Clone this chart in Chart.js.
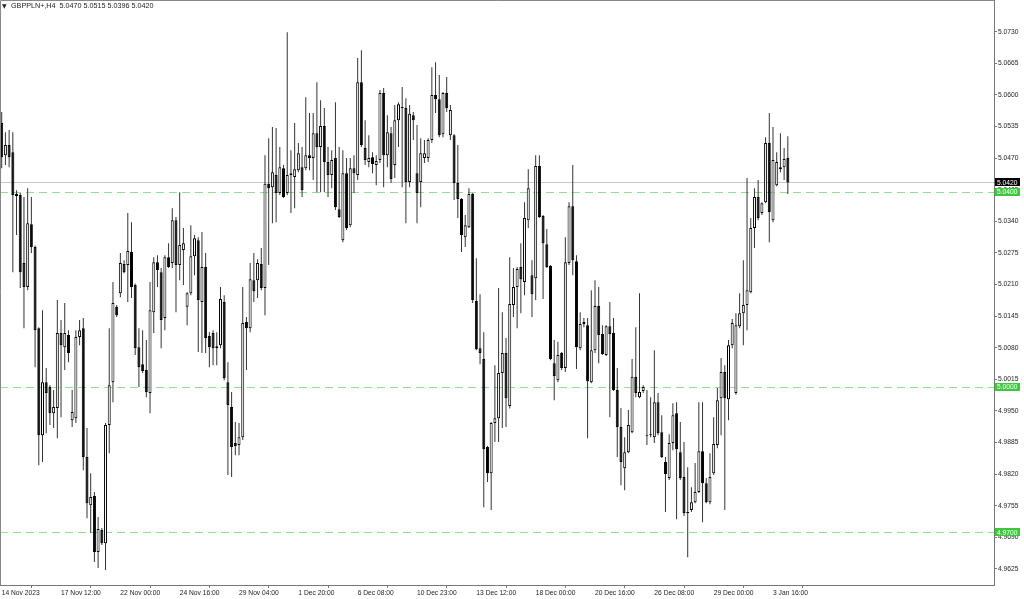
<!DOCTYPE html>
<html>
<head>
<meta charset="utf-8">
<script src="https://cdn.jsdelivr.net/npm/chart.js@4.4.1/dist/chart.umd.min.js"></script>
<style>
  html, body { margin: 0; padding: 0; background: #fff; }
  #wrap { position: relative; width: 1024px; height: 599px; overflow: hidden; }
  #header { position: absolute; left: 11px; top: 1px; font: 7.2px "Liberation Sans", Arial, sans-serif; line-height: 9px; color: #222; white-space: pre; }
  #arrow { position: absolute; left: 2px; top: 1px; font: 6px "DejaVu Sans", sans-serif; line-height: 9px; color: #222; }
</style>
</head>
<body>
<div id="wrap">
  <canvas id="mainChart" width="1024" height="599"></canvas>
  <div id="arrow">▼</div>
  <div id="header"></div>
</div>
<script>
const symbol = "GBPPLN+";
const timeframe = "H4";

// one entry per H4 bar, first bar is 14 Nov 2023 20:00
const opens = [
  5.0542, 5.0476, 5.0497, 5.0482, 5.0396, 5.0394, 5.0254, 5.0205, 5.0334, 5.0287,
  5.0120, 4.9900, 5.0009, 4.9999, 4.9945, 4.9956, 5.0110, 5.0081, 5.0106, 4.9931,
  4.9935, 5.0102, 5.0120, 4.9855, 4.9756, 4.9775, 4.9660, 4.9705, 4.9678, 4.9921,
  5.0009, 5.0164, 5.0192, 5.0252, 5.0250, 5.0277, 5.0209, 5.0081, 5.0046, 5.0034,
  4.9987, 5.0153, 5.0256, 5.0235, 5.0141, 5.0266, 5.0254, 5.0342, 5.0250, 5.0281,
  5.0164, 5.0192, 5.0268, 5.0301, 5.0174, 5.0246, 5.0104, 5.0110, 5.0079, 5.0085,
  5.0174, 5.0009, 4.9958, 4.9884, 4.9880, 4.9896, 5.0133, 5.0120, 5.0219, 5.0219,
  5.0252, 5.0203, 5.0417, 5.0410, 5.0435, 5.0398, 5.0449, 5.0398, 5.0435, 5.0431,
  5.0445, 5.0451, 5.0449, 5.0476, 5.0470, 5.0521, 5.0493, 5.0536, 5.0462, 5.0435,
  5.0470, 5.0365, 5.0301, 5.0439, 5.0332, 5.0449, 5.0435, 5.0626, 5.0491, 5.0462,
  5.0472, 5.0456, 5.0466, 5.0604, 5.0476, 5.0521, 5.0456, 5.0548, 5.0575, 5.0573,
  5.0421, 5.0558, 5.0439, 5.0421, 5.0470, 5.0470, 5.0507, 5.0600, 5.0591, 5.0519,
  5.0604, 5.0517, 5.0517, 5.0419, 5.0386, 5.0307, 5.0328, 5.0396, 5.0176, 5.0079,
  5.0057, 4.9876, 4.9822, 4.9925, 4.9935, 5.0028, 5.0069, 4.9960, 5.0168, 5.0205,
  5.0246, 5.0215, 5.0342, 5.0229, 5.0223, 5.0454, 5.0351, 5.0293, 5.0248, 5.0048,
  5.0013, 5.0069, 5.0038, 5.0254, 5.0371, 5.0258, 5.0079, 5.0129, 5.0126, 5.0009,
  5.0075, 5.0166, 5.0108, 5.0065, 5.0124, 5.0110, 4.9993, 4.9917, 4.9832, 4.9865,
  4.9906, 5.0020, 4.9978, 4.9991, 4.9900, 4.9900, 4.9896, 4.9968, 4.9906, 4.9845,
  4.9812, 4.9884, 4.9945, 4.9865, 4.9814, 4.9742, 4.9746, 4.9762, 4.9783, 4.9867,
  4.9801, 4.9762, 4.9822, 4.9880, 4.9976, 5.0030, 4.9974, 5.0085, 4.9987, 5.0124,
  5.0151, 5.0168, 5.0194, 5.0326, 5.0390, 5.0357, 5.0379, 5.0501, 5.0342, 5.0414,
  5.0447, 5.0451, 5.0470
];
const highs = [
  5.0565, 5.0523, 5.0528, 5.0523, 5.0404, 5.0398, 5.0390, 5.0408, 5.0390, 5.0290,
  5.0122, 5.0157, 5.0038, 5.0003, 4.9993, 5.0178, 5.0137, 5.0172, 5.0116, 4.9993,
  5.0116, 5.0137, 5.0141, 4.9915, 4.9822, 4.9783, 4.9732, 4.9709, 4.9925, 5.0120,
  5.0215, 5.0168, 5.0275, 5.0260, 5.0357, 5.0338, 5.0212, 5.0120, 5.0116, 5.0096,
  5.0215, 5.0266, 5.0270, 5.0244, 5.0270, 5.0295, 5.0367, 5.0349, 5.0400, 5.0326,
  5.0194, 5.0332, 5.0312, 5.0307, 5.0318, 5.0275, 5.0112, 5.0116, 5.0112, 5.0205,
  5.0188, 5.0050, 4.9989, 4.9927, 4.9925, 5.0205, 5.0143, 5.0254, 5.0275, 5.0262,
  5.0285, 5.0476, 5.0511, 5.0534, 5.0532, 5.0493, 5.0456, 5.0729, 5.0486, 5.0542,
  5.0501, 5.0493, 5.0595, 5.0563, 5.0563, 5.0626, 5.0589, 5.0573, 5.0493, 5.0486,
  5.0585, 5.0493, 5.0486, 5.0470, 5.0470, 5.0476, 5.0676, 5.0692, 5.0548, 5.0517,
  5.0482, 5.0476, 5.0610, 5.0614, 5.0558, 5.0534, 5.0579, 5.0585, 5.0616, 5.0593,
  5.0579, 5.0565, 5.0538, 5.0511, 5.0507, 5.0511, 5.0657, 5.0667, 5.0641, 5.0606,
  5.0637, 5.0579, 5.0519, 5.0497, 5.0388, 5.0353, 5.0408, 5.0398, 5.0264, 5.0190,
  5.0112, 4.9878, 4.9927, 5.0044, 5.0203, 5.0153, 5.0100, 5.0266, 5.0244, 5.0246,
  5.0295, 5.0379, 5.0447, 5.0260, 5.0476, 5.0476, 5.0353, 5.0324, 5.0250, 5.0096,
  5.0092, 5.0071, 5.0307, 5.0379, 5.0456, 5.0270, 5.0153, 5.0141, 5.0141, 5.0198,
  5.0219, 5.0205, 5.0126, 5.0126, 5.0174, 5.0141, 5.0038, 4.9956, 4.9896, 4.9952,
  5.0057, 5.0122, 5.0192, 5.0003, 4.9993, 4.9978, 5.0075, 4.9987, 4.9941, 4.9855,
  4.9902, 4.9966, 4.9968, 4.9927, 4.9886, 4.9834, 4.9793, 4.9843, 4.9968, 4.9968,
  4.9812, 4.9863, 4.9937, 4.9997, 5.0059, 5.0044, 5.0096, 5.0139, 5.0151, 5.0192,
  5.0260, 5.0429, 5.0347, 5.0408, 5.0425, 5.0379, 5.0513, 5.0563, 5.0534, 5.0482,
  5.0521, 5.0491, 5.0515
];
const lows = [
  5.0449, 5.0456, 5.0451, 5.0235, 5.0312, 5.0203, 5.0120, 5.0198, 5.0275, 5.0040,
  4.9838, 4.9845, 4.9904, 4.9921, 4.9915, 4.9894, 4.9937, 5.0034, 5.0050, 4.9917,
  4.9925, 5.0085, 4.9828, 4.9729, 4.9699, 4.9639, 4.9627, 4.9674, 4.9623, 4.9863,
  4.9968, 5.0143, 5.0184, 5.0233, 5.0174, 5.0182, 5.0065, 4.9999, 5.0028, 4.9978,
  4.9945, 5.0110, 5.0205, 5.0079, 5.0116, 5.0244, 5.0244, 5.0153, 5.0219, 5.0209,
  5.0126, 5.0188, 5.0229, 5.0071, 5.0069, 5.0069, 5.0040, 5.0044, 5.0044, 5.0079,
  5.0013, 4.9818, 4.9814, 4.9859, 4.9859, 4.9890, 5.0034, 5.0112, 5.0174, 5.0182,
  5.0198, 5.0147, 5.0250, 5.0336, 5.0338, 5.0394, 5.0388, 5.0394, 5.0357, 5.0367,
  5.0441, 5.0390, 5.0445, 5.0445, 5.0425, 5.0400, 5.0400, 5.0400, 5.0390, 5.0408,
  5.0363, 5.0347, 5.0297, 5.0322, 5.0328, 5.0398, 5.0425, 5.0493, 5.0456, 5.0451,
  5.0439, 5.0414, 5.0460, 5.0410, 5.0451, 5.0419, 5.0429, 5.0493, 5.0410, 5.0336,
  5.0410, 5.0507, 5.0336, 5.0369, 5.0460, 5.0462, 5.0501, 5.0563, 5.0513, 5.0513,
  5.0565, 5.0507, 5.0384, 5.0347, 5.0277, 5.0287, 5.0326, 5.0172, 5.0075, 5.0046,
  4.9752, 4.9804, 4.9746, 4.9886, 4.9886, 4.9915, 4.9917, 4.9955, 5.0143, 5.0120,
  5.0151, 5.0188, 5.0326, 5.0143, 5.0178, 5.0347, 5.0180, 5.0244, 5.0054, 4.9972,
  5.0009, 5.0034, 5.0030, 5.0250, 5.0229, 5.0036, 5.0075, 5.0122, 4.9894, 5.0007,
  5.0069, 5.0048, 5.0065, 5.0063, 4.9937, 4.9991, 4.9855, 4.9797, 4.9787, 4.9863,
  4.9904, 4.9978, 4.9976, 4.9987, 4.9880, 4.9896, 4.9884, 4.9900, 4.9853, 4.9742,
  4.9808, 4.9869, 4.9727, 4.9808, 4.9734, 4.9649, 4.9742, 4.9760, 4.9781, 4.9721,
  4.9760, 4.9758, 4.9818, 4.9873, 4.9900, 4.9746, 4.9931, 5.0079, 4.9983, 5.0120,
  5.0085, 5.0116, 5.0192, 5.0285, 5.0342, 5.0353, 5.0377, 5.0297, 5.0338, 5.0412,
  5.0441, 5.0425, 5.0396
];
const closes = [
  5.0472, 5.0497, 5.0472, 5.0394, 5.0392, 5.0235, 5.0205, 5.0336, 5.0287, 5.0116,
  4.9900, 5.0009, 4.9987, 4.9945, 4.9958, 5.0110, 5.0085, 5.0110, 5.0069, 4.9948,
  5.0102, 5.0116, 4.9855, 4.9760, 4.9773, 4.9660, 4.9707, 4.9678, 4.9921, 5.0003,
  5.0172, 5.0147, 5.0254, 5.0235, 5.0279, 5.0205, 5.0079, 5.0040, 5.0032, 4.9989,
  5.0157, 5.0256, 5.0240, 5.0137, 5.0266, 5.0246, 5.0342, 5.0250, 5.0291, 5.0295,
  5.0192, 5.0268, 5.0305, 5.0178, 5.0246, 5.0100, 5.0081, 5.0079, 5.0083, 5.0180,
  5.0017, 4.9962, 4.9876, 4.9878, 4.9896, 5.0131, 5.0120, 5.0221, 5.0196, 5.0254,
  5.0203, 5.0417, 5.0408, 5.0441, 5.0398, 5.0451, 5.0390, 5.0435, 5.0439, 5.0447,
  5.0480, 5.0404, 5.0476, 5.0470, 5.0521, 5.0493, 5.0536, 5.0462, 5.0435, 5.0466,
  5.0369, 5.0349, 5.0439, 5.0326, 5.0449, 5.0439, 5.0626, 5.0497, 5.0466, 5.0470,
  5.0458, 5.0464, 5.0604, 5.0476, 5.0523, 5.0427, 5.0548, 5.0581, 5.0573, 5.0421,
  5.0561, 5.0548, 5.0398, 5.0480, 5.0480, 5.0507, 5.0600, 5.0591, 5.0517, 5.0604,
  5.0573, 5.0569, 5.0419, 5.0386, 5.0312, 5.0332, 5.0396, 5.0178, 5.0077, 5.0069,
  4.9871, 4.9822, 4.9925, 4.9935, 5.0028, 5.0069, 4.9976, 5.0170, 5.0205, 5.0242,
  5.0221, 5.0347, 5.0408, 5.0190, 5.0454, 5.0349, 5.0295, 5.0246, 5.0057, 5.0022,
  5.0065, 5.0038, 5.0256, 5.0371, 5.0260, 5.0081, 5.0129, 5.0133, 5.0011, 5.0075,
  5.0166, 5.0106, 5.0067, 5.0124, 5.0108, 4.9993, 4.9917, 4.9845, 4.9865, 4.9921,
  5.0020, 4.9987, 4.9989, 4.9999, 4.9898, 4.9902, 4.9968, 4.9904, 4.9855, 4.9820,
  4.9884, 4.9941, 4.9871, 4.9812, 4.9740, 4.9740, 4.9762, 4.9783, 4.9867, 4.9801,
  4.9762, 4.9814, 4.9882, 4.9972, 5.0030, 4.9976, 5.0085, 5.0131, 5.0126, 5.0151,
  5.0168, 5.0198, 5.0326, 5.0390, 5.0347, 5.0377, 5.0501, 5.0359, 5.0466, 5.0462,
  5.0451, 5.0468, 5.0420
];

const priceTicks = [
  4.9625, 4.9690, 4.9755, 4.9820, 4.9885, 4.9950, 5.0015, 5.0080, 5.0145,
  5.0210, 5.0275, 5.0340, 5.0405, 5.0470, 5.0535, 5.0600, 5.0665, 5.0730
];
const dateLabels = [
  "14 Nov 2023", "17 Nov 12:00", "22 Nov 00:00", "24 Nov 16:00", "29 Nov 04:00",
  "1 Dec 20:00", "6 Dec 08:00", "10 Dec 23:00", "13 Dec 12:00", "18 Dec 00:00",
  "20 Dec 16:00", "26 Dec 08:00", "29 Dec 00:00", "3 Jan 16:00"
];
const labelEvery = 16; // bars between two time labels
const levelLines = [5.0400, 5.0000, 4.9700];
const bidPrice = 5.0420;

const axisFont = { family: "Liberation Sans", size: 6.7 };
const last = opens.length - 1;

function fmt(v) {
  return Number(v).toFixed(4);
}

document.getElementById("header").textContent =
  symbol + "," + timeframe + "  " +
  [opens[last], highs[last], lows[last], closes[last]].map(fmt).join(" ");

const bodyData = opens.map((o, i) => ({
  x: i,
  y: [Math.min(o, closes[i]), Math.max(o, closes[i])],
}));
const wickData = opens.map((o, i) => ({ x: i, y: [lows[i], highs[i]] }));
const bodyColors = opens.map((o, i) => (closes[i] >= o ? "#ffffff" : "#000000"));

// level lines, bid line, frame and price boxes on the axis
const levelsPlugin = {
  id: "levels",
  beforeDatasetsDraw(chart) {
    const { ctx, chartArea: a, scales } = chart;
    ctx.save();
    ctx.lineWidth = 1;
    let py = Math.round(scales.y.getPixelForValue(bidPrice)) + 0.5;
    ctx.strokeStyle = "#c8c8c8";
    ctx.beginPath();
    ctx.moveTo(a.left, py);
    ctx.lineTo(a.right, py);
    ctx.stroke();

    ctx.strokeStyle = "#8fe08f";
    ctx.setLineDash([8, 5]);
    levelLines.forEach((v) => {
      py = Math.round(scales.y.getPixelForValue(v)) + 0.5;
      ctx.beginPath();
      ctx.moveTo(a.left, py);
      ctx.lineTo(a.right, py);
      ctx.stroke();
    });
    ctx.restore();
  },
  afterDraw(chart) {
    const { ctx, chartArea: a, scales } = chart;
    ctx.save();
    ctx.strokeStyle = "#888";
    ctx.lineWidth = 1;
    ctx.beginPath();
    ctx.moveTo(0.5, a.bottom);
    ctx.lineTo(0.5, 0.5);
    ctx.lineTo(a.right, 0.5);
    ctx.stroke();

    ctx.font = axisFont.size + "px " + axisFont.family;
    ctx.textBaseline = "middle";
    ctx.textAlign = "left";
    const box = (v, bg) => {
      const py = scales.y.getPixelForValue(v);
      ctx.fillStyle = bg;
      ctx.fillRect(a.right + 1, Math.round(py) - 4, 25, 8);
      ctx.fillStyle = "#ffffff";
      ctx.fillText(fmt(v), a.right + 3, py + 0.5);
    };
    levelLines.forEach((v) => box(v, "#3cc83c"));
    box(bidPrice, "#000000");
    ctx.restore();
  },
};

const ctx = document.getElementById("mainChart").getContext("2d");
new Chart(ctx, {
  type: "bar",
  data: {
    datasets: [
      {
        label: "body",
        data: bodyData,
        backgroundColor: bodyColors,
        borderColor: "#000000",
        borderWidth: 1,
        borderSkipped: false,
        barThickness: 3,
        minBarLength: 1,
        inflateAmount: 0,
        order: 0,
      },
      {
        label: "wick",
        data: wickData,
        backgroundColor: "#333333",
        borderWidth: 0,
        barThickness: 1,
        inflateAmount: 0,
        order: 1,
      },
    ],
  },
  options: {
    responsive: false,
    animation: false,
    devicePixelRatio: 1,
    layout: { padding: 0 },
    datasets: { bar: { grouped: false } },
    plugins: {
      legend: { display: false },
      tooltip: { enabled: false },
    },
    scales: {
      x: {
        type: "linear",
        min: -0.46,
        max: 267.6,
        offset: false,
        grid: { drawOnChartArea: false, drawTicks: true, tickLength: 3, tickColor: "#777" },
        border: { color: "#777" },
        ticks: {
          autoSkip: false,
          maxRotation: 0,
          minRotation: 0,
          align: "start",
          padding: 1,
          color: "#222",
          font: axisFont,
          callback: (v, i) => dateLabels[i],
        },
        afterBuildTicks: (s) => {
          s.ticks = dateLabels.map((_, k) => ({ value: k * labelEvery }));
        },
        afterFit: (s) => {
          s.height = 14;
          s.paddingLeft = 0;
          s.paddingRight = 0;
        },
      },
      y: {
        type: "linear",
        position: "right",
        min: 4.95919,
        max: 5.07952,
        grid: { drawOnChartArea: false, drawTicks: true, tickLength: 3, tickColor: "#777" },
        border: { color: "#777" },
        ticks: {
          padding: 1,
          color: "#222",
          font: axisFont,
          callback: (v) => fmt(v),
        },
        afterBuildTicks: (s) => {
          s.ticks = priceTicks.map((v) => ({ value: v }));
        },
        afterFit: (s) => {
          s.width = 30;
          s.paddingTop = 0;
          s.paddingBottom = 0;
        },
      },
    },
  },
  plugins: [levelsPlugin],
});
</script>
</body>
</html>
